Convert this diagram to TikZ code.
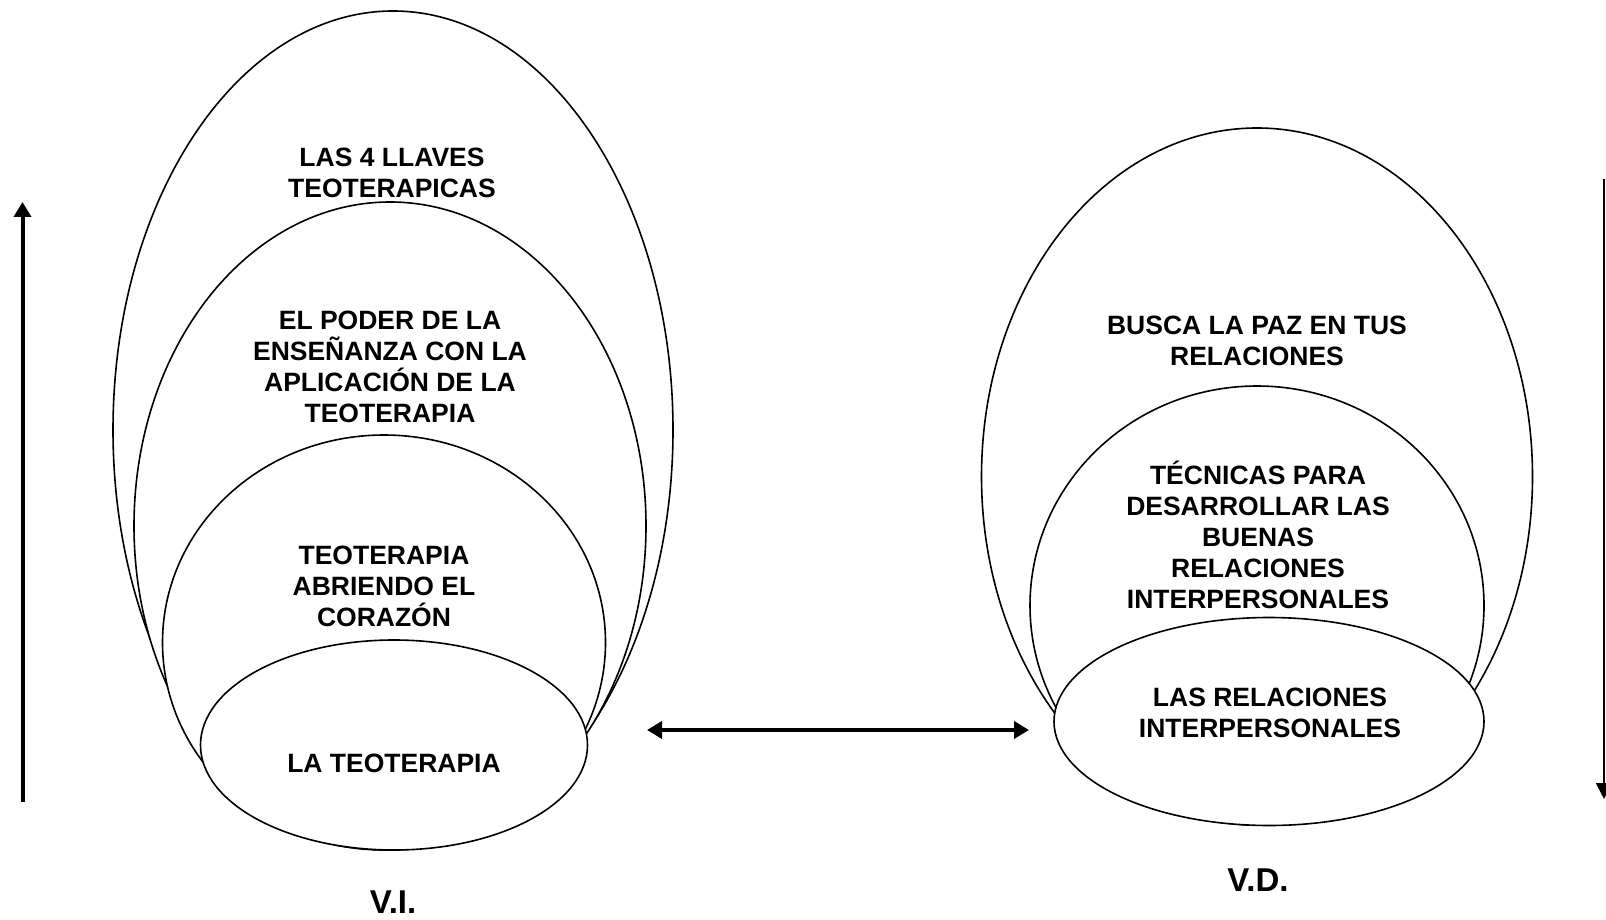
\documentclass[tikz,border=0pt]{standalone}
\usepackage{fontspec}
\setmainfont{Liberation Sans}
\usetikzlibrary{shapes.geometric,arrows.meta}
\begin{document}
\begin{tikzpicture}[x=1pt,y=-1pt,
  oval/.style={draw,ellipse,fill=white,line width=1.6pt,inner sep=0pt},
  lbl/.style={align=center,font=\fontsize{26.5}{31}\selectfont\bfseries,inner sep=0pt},
  varlbl/.style={align=center,font=\fontsize{33}{38}\selectfont\bfseries,inner sep=0pt},
  bigarrow/.style={line width=4pt,-{Triangle[length=15pt,width=17pt]}},
  thinarrow/.style={line width=2pt,-{Triangle[length=16pt,width=16pt]}}]
\useasboundingbox (0,0) rectangle (1606,920);
% left group
\node[oval,minimum width=560pt,minimum height=838pt] (e1) at (393,430) {};
\node[oval,minimum width=512pt,minimum height=648pt] (e2) at (390,526) {};
\node[oval,minimum width=443pt,minimum height=415pt] (e3) at (384,642.5) {};
\node[oval,minimum width=387pt,minimum height=210pt] (e4) at (394,745) {};
% right group
\node[oval,minimum width=551pt,minimum height=697pt] (r1) at (1257,476.5) {};
\node[oval,minimum width=454pt,minimum height=439pt] (r2) at (1257,605.5) {};
\node[oval,minimum width=430pt,minimum height=208pt] (r3) at (1269,721.5) {};
% labels
\node[lbl] (t1) at (392,173) {LAS 4 LLAVES\\TEOTERAPICAS};
\node[lbl] (t2) at (390,366.7) {EL PODER DE LA\\ENSEÑANZA CON LA\\APLICACIÓN DE LA\\TEOTERAPIA};
\node[lbl] (t3) at (384,586) {TEOTERAPIA\\ABRIENDO EL\\CORAZÓN};
\node[lbl] (t4) at (394,763) {LA TEOTERAPIA};
\node[varlbl] (vi) at (393,902) {V.I.};
\node[lbl] (u1) at (1257,340.5) {BUSCA LA PAZ EN TUS\\RELACIONES};
\node[lbl] (u2) at (1258,535) {TÉCNICAS PARA\\DESARROLLAR LAS\\BUENAS\\RELACIONES\\INTERPERSONALES};
\node[lbl] (u3) at (1270,712.8) {LAS RELACIONES\\INTERPERSONALES};
\node[varlbl] (vd) at (1258,880) {V.D.};
% arrows
\coordinate (ua) at (22.5,802);
\coordinate (ub) at (22.5,202);
\coordinate (da) at (1604,179);
\coordinate (db) at (1604,799);
\coordinate (ha) at (647,730);
\coordinate (hb) at (1029,730);
\draw[bigarrow] (ua) -- (ub);
\draw[thinarrow] (da) -- (db);
\draw[line width=4pt,{Triangle[length=15pt,width=17pt]}-{Triangle[length=15pt,width=17pt]}] (ha) -- (hb);
\end{tikzpicture}
\end{document}
